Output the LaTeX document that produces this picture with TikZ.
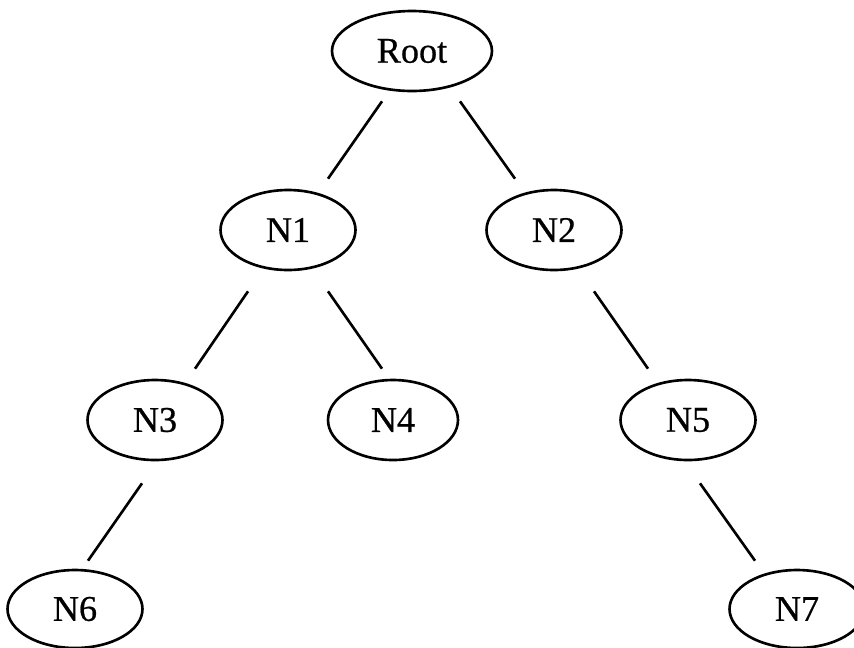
\documentclass[tikz,border=0pt]{standalone}
\usepackage{fontspec}
\setmainfont{Liberation Serif}
\newfontfamily\treefont{Liberation Serif}[FakeBold=0.6]
\usepackage{tikz}
\usetikzlibrary{shapes.geometric, calc}

\begin{document}
\begin{tikzpicture}[
            x = 0.02cm, y = -0.02cm, % one unit per pixel, y going down
            line width = 1.5pt, % line style
            font = \treefont\fontsize{20.6}{24}\selectfont
        ]

        \tikzstyle{tree node}=[
            ellipse,
            draw = black,
            fill = white,
            inner sep = 0pt,
            minimum width = 2.7cm,
            minimum height = 1.6cm
        ]
        \useasboundingbox (0,0) rectangle (854,647);

        \node[tree node] (root) [minimum width = 3.2cm] at (412,51) {Root};
        \node[tree node] (n1) at (288,230) {N1};
        \node[tree node] (n2) at (554,230) {N2};
        \node[tree node] (n3) at (155,420) {N3};
        \node[tree node] (n4) [minimum width = 2.6cm] at (393,420) {N4};
        \node[tree node] (n5) at (688,420) {N5};
        \node[tree node] (n6) [minimum height = 1.56cm] at (75,609) {N6};
        \node[tree node] (n7) [minimum height = 1.56cm] at (797,609) {N7};

        \draw ($(root.south)+(-30,9)$) -- ($(n1.north)+(40,-10)$);
        \draw ($(root.south)+(48,9)$) -- ($(n2.north)+(-39,-10)$);
        \draw ($(n1.south)+(-40,20)$) -- ($(n3.north)+(40,-10)$);
        \draw ($(n1.south)+(40,20)$) -- ($(n4.north)+(-11,-10)$);
        \draw ($(n2.south)+(40,20)$) -- ($(n5.north)+(-40,-10)$);
        \draw ($(n3.south)+(-13,22)$) -- ($(n6.north)+(13,-8)$);
        \draw ($(n5.south)+(12,22)$) -- ($(n7.north)+(-42,-8)$);
    \end{tikzpicture}
\end{document}
